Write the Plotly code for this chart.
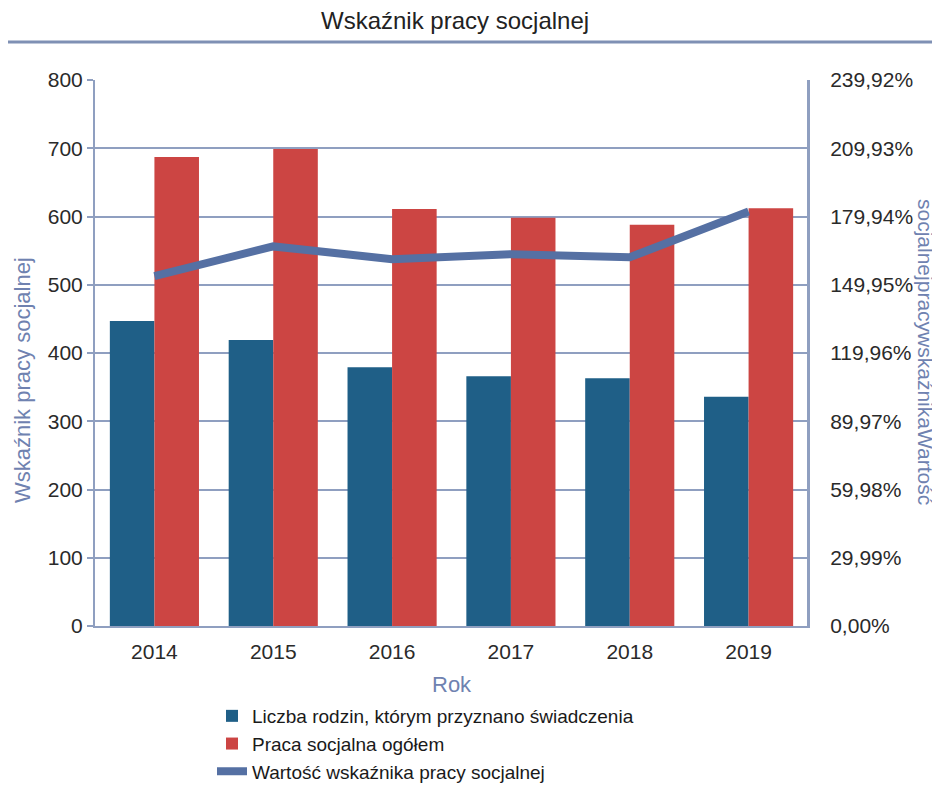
import plotly.graph_objects as go

years = ["2014", "2015", "2016", "2017", "2018", "2019"]
rodziny = [447, 419, 379, 366, 363, 336]
praca = [687, 699, 611, 598, 588, 612]
wskaznik = [153.7, 166.8, 161.2, 163.4, 162.0, 182.1]  # %

right_ticks = [0, 29.99, 59.98, 89.97, 119.96, 149.95, 179.94, 209.93, 239.92]
right_labels = ["0,00%", "29,99%", "59,98%", "89,97%", "119,96%", "149,95%",
                "179,94%", "209,93%", "239,92%"]

FONT = "Liberation Sans, Arial, sans-serif"
GRID = "#8f9fc0"
TITLE_BLUE = "#6f82b0"
TICKF = 21

fig = go.Figure()
fig.add_trace(go.Bar(x=years, y=rodziny, name="Liczba rodzin, którym przyznano świadczenia",
                     marker=dict(color="#1f5f87", line=dict(width=0))))
fig.add_trace(go.Bar(x=years, y=praca, name="Praca socjalna ogółem",
                     marker=dict(color="#cc4543", line=dict(width=0))))
fig.add_trace(go.Scatter(x=years, y=wskaznik, name="Wartość wskaźnika pracy socjalnej",
                         mode="lines", line=dict(color="#5570a3", width=8),
                         yaxis="y2"))

# page has an 8px body margin; work in reference-page pixels and shift
OFF = 8
W, H = 940 - OFF, 791 - OFF
PL, PR, PT, PB = 95, 808, 80, 626  # plot box in reference pixels
L, T = PL - OFF, PT - OFF
R, B = W - (PR - OFF), H - (PB - OFF)
pw, ph = PR - PL, PB - PT


def py(p):
    return (PB - p) / ph


def px(p):
    return (p - PL) / pw


fig.update_layout(
    width=W, height=H,
    margin=dict(l=L, r=R, t=T, b=B, autoexpand=False),
    paper_bgcolor="white", plot_bgcolor="white",
    font=dict(family=FONT, size=TICKF, color="#2a2a2a"),
    barmode="group", bargap=0.25, bargroupgap=0,
    showlegend=True,
    legend=dict(x=px(212), y=py(697), xanchor="left", yanchor="top",
                orientation="v", font=dict(size=19, color="#1a1a1a"),
                bgcolor="rgba(0,0,0,0)", tracegroupgap=0, itemwidth=30),
    xaxis=dict(type="category", showgrid=False, showline=True, linecolor=GRID, linewidth=2,
               ticks="", tickfont=dict(size=TICKF), ticklabelstandoff=6),
    yaxis=dict(range=[0, 800], tickvals=[0, 100, 200, 300, 400, 500, 600, 700, 800],
               showgrid=True, gridcolor=GRID, gridwidth=2, showline=True, linecolor=GRID,
               linewidth=2, ticks="outside", ticklen=6, tickcolor=GRID, tickwidth=2,
               tickfont=dict(size=TICKF), zeroline=False),
    yaxis2=dict(overlaying="y", side="right", range=[0, 239.92], tickvals=right_ticks,
                ticktext=right_labels, showgrid=False, showline=True, linecolor=GRID,
                linewidth=2, ticks="", tickfont=dict(size=TICKF), zeroline=False,
                ticklabelstandoff=16),
    annotations=[
        dict(text="Wskaźnik pracy socjalnej", xref="paper", yref="paper",
             x=px(455), y=py(21), showarrow=False,
             font=dict(size=24, color="#222"), xanchor="center", yanchor="middle"),
        dict(text="Wskaźnik pracy socjalnej", xref="paper", yref="paper",
             x=px(22), y=py(380), showarrow=False, textangle=-90,
             font=dict(size=22, color=TITLE_BLUE), xanchor="center", yanchor="middle"),
        dict(text="socjalnejpracywskaźnikaWartość", xref="paper", yref="paper",
             x=px(926), y=py(352), showarrow=False, textangle=90,
             font=dict(size=21, color=TITLE_BLUE), xanchor="center", yanchor="middle"),
        dict(text="Rok", xref="paper", yref="paper",
             x=px(452), y=py(684), showarrow=False,
             font=dict(size=22, color=TITLE_BLUE), xanchor="center", yanchor="middle"),
    ],
    shapes=[
        dict(type="line", xref="paper", yref="paper", x0=px(OFF), x1=px(940),
             y0=py(42), y1=py(42), line=dict(color="#7f90b4", width=3)),
        dict(type="line", xref="paper", yref="paper", x0=1, x1=1, y0=0, y1=1,
             line=dict(color=GRID, width=2)),
    ],
)

fig.write_html("out.html")
